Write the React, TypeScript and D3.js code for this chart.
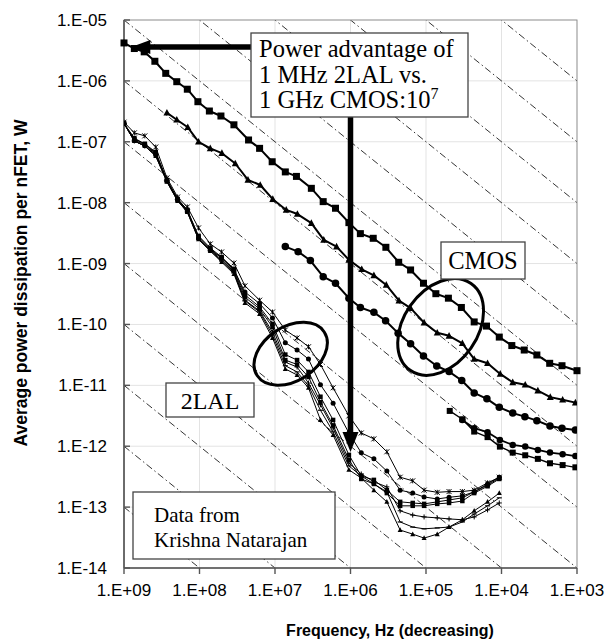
import React from 'react';
import * as d3 from 'd3';

// ---------- data ----------
const X_TICKS = [1e9, 1e8, 1e7, 1e6, 1e5, 1e4, 1e3];
const Y_TICKS = [1e-5, 1e-6, 1e-7, 1e-8, 1e-9, 1e-10, 1e-11, 1e-12, 1e-13, 1e-14];
// constant energy-per-cycle guide lines (J), P = E * f
const ENERGY_LINES = [1e-23, 1e-22, 1e-21, 1e-20, 1e-19, 1e-18, 1e-17, 1e-16, 1e-15, 1e-14, 1e-13, 1e-12, 1e-11, 1e-10, 1e-9, 1e-8];

// CMOS series
const CMOS_SQ_F = [1e9, 7.3e8, 5.4e8, 3.9e8, 2.8e8, 2.0e8, 1.45e8, 1.05e8, 7.4e7, 5.2e7, 3.5e7, 2.24e7, 1.6e7, 1.09e7, 7.3e6, 5.2e6, 3.3e6, 2.3e6, 1.58e6, 1.05e6, 7.4e5, 5.0e5, 3.4e5, 2.3e5, 1.6e5, 1.08e5, 7.4e4, 5.05e4, 3.4e4, 2.3e4, 1.58e4, 1.07e4, 7.3e3, 5.0e3, 3.4e3, 2.3e3, 1.58e3, 1.0e3];
const CMOS_SQ_P = [4.2e-6, 3.4e-6, 3.0e-6, 2.1e-6, 1.33e-6, 9.7e-7, 7.3e-7, 4.55e-7, 3.2e-7, 2.65e-7, 1.9e-7, 1.07e-7, 7.8e-8, 4.7e-8, 3.2e-8, 2.7e-8, 1.72e-8, 1.04e-8, 8.1e-9, 4.7e-9, 3.1e-9, 2.6e-9, 1.85e-9, 1.05e-9, 7.85e-10, 4.75e-10, 3.2e-10, 2.7e-10, 1.9e-10, 1.1e-10, 9.4e-11, 6.2e-11, 4.5e-11, 3.8e-11, 3.15e-11, 2.3e-11, 2.1e-11, 1.74e-11];

const CMOS_TRI_F = [2.7e8, 2.0e8, 1.43e8, 1.03e8, 7.2e7, 5.05e7, 3.36e7, 2.28e7, 1.57e7, 1.07e7, 7.1e6, 5.05e6, 3.3e6, 2.26e6, 1.53e6, 1.05e6, 7.1e5, 4.9e5, 3.36e5, 2.28e5, 1.6e5, 1.06e5, 7.1e4, 4.95e4, 3.3e4, 2.3e4, 1.53e4, 1.04e4, 7.1e3, 4.85e3, 3.3e3, 2.26e3, 1.55e3, 1.05e3];
const CMOS_TRI_P = [3.0e-7, 2.3e-7, 1.73e-7, 1.0e-7, 7.8e-8, 6.5e-8, 4.4e-8, 2.36e-8, 1.95e-8, 1.14e-8, 7.6e-9, 6.5e-9, 4.6e-9, 2.45e-9, 1.9e-9, 1.15e-9, 8.05e-10, 6.4e-10, 4.45e-10, 2.46e-10, 1.85e-10, 1.07e-10, 7.3e-11, 6.5e-11, 4.9e-11, 2.7e-11, 2.3e-11, 1.54e-11, 1.12e-11, 1.02e-11, 8.2e-12, 6.4e-12, 5.8e-12, 5.2e-12];

const CMOS_CIR_F = [7.3e6, 4.94e6, 3.4e6, 2.3e6, 1.58e6, 1.05e6, 7.4e5, 4.9e5, 3.43e5, 2.34e5, 1.6e5, 1.08e5, 7.2e4, 4.95e4, 3.36e4, 2.3e4, 1.56e4, 1.07e4, 7.1e3, 4.9e3, 3.4e3, 2.28e3, 1.58e3, 1.05e3];
const CMOS_CIR_P = [1.9e-9, 1.57e-9, 1.12e-9, 6.1e-10, 4.75e-10, 2.7e-10, 1.9e-10, 1.58e-10, 1.15e-10, 7.2e-11, 4.8e-11, 3.04e-11, 2.08e-11, 1.68e-11, 1.2e-11, 7.5e-12, 6.0e-12, 4.35e-12, 3.5e-12, 3.06e-12, 2.63e-12, 2.15e-12, 1.98e-12, 1.85e-12];

const CMOS_LOW_SQ_F = [4.85e4, 3.3e4, 2.3e4, 1.53e4, 1.05e4, 7.1e3, 4.85e3, 3.3e3, 2.28e3, 1.55e3, 1.05e3];
const CMOS_LOW_SQ_P = [3.8e-12, 2.77e-12, 1.74e-12, 1.41e-12, 9.85e-13, 7.85e-13, 7.1e-13, 6.2e-13, 5.25e-13, 4.9e-13, 4.5e-13];
const CMOS_LOW_CIR_F = [3.3e4, 2.3e4, 1.53e4, 1.05e4, 7.1e3, 4.85e3, 3.3e3, 2.28e3, 1.55e3, 1.05e3];
const CMOS_LOW_CIR_P = [2.7e-12, 1.98e-12, 1.7e-12, 1.27e-12, 1.05e-12, 9.85e-13, 8.7e-13, 7.85e-13, 7.4e-13, 6.9e-13];

// 2LAL series (shared frequency grid)
const LAL_F = [1e9, 7.3e8, 5.3e8, 3.8e8, 2.7e8, 1.95e8, 1.45e8, 1.03e8, 7.2e7, 5.1e7, 3.5e7, 2.5e7, 1.6e7, 1.08e7, 7.3e6, 5.1e6, 3.6e6, 2.5e6, 1.7e6, 1.05e6, 7.2e5, 4.9e5, 3.3e5, 2.2e5, 1.5e5, 1.06e5, 7.1e4, 4.95e4, 3.3e4, 2.3e4, 1.53e4, 1.07e4];
const LAL_A = [2.1e-7, 1.4e-7, 1.25e-7, 8.2e-8, 2.55e-8, 1.24e-8, 8.5e-9, 3.85e-9, 2.1e-9, 1.55e-9, 1.02e-9, 4.3e-10, 2.5e-10, 1.6e-10, 8.1e-11, 6.0e-11, 4.3e-11, 2.2e-11, 9.1e-12, 3.15e-12, 1.65e-12, 1.32e-12, 8.1e-13, 3.1e-13, 2.7e-13, 1.9e-13, 1.75e-13, 1.8e-13, 1.8e-13, 1.9e-13, 2.5e-13, 3.1e-13];
const LAL_B = [2.0e-7, 1.07e-7, 8.9e-8, 6.3e-8, 2.36e-8, 1.15e-8, 7.6e-9, 2.6e-9, 1.67e-9, 1.24e-9, 7.9e-10, 3.4e-10, 2.2e-10, 1.28e-10, 5.0e-11, 3.8e-11, 2.7e-11, 1.02e-11, 5.1e-12, 1.65e-12, 7.8e-13, 6.2e-13, 3.9e-13, 1.9e-13, 1.7e-13, 1.47e-13, 1.36e-13, 1.45e-13, 1.53e-13, 1.78e-13, 2.4e-13, 3.1e-13];
const LAL_C = [2.0e-7, 1.15e-7, 9.2e-8, 6.8e-8, 2.36e-8, 1.15e-8, 7.6e-9, 2.85e-9, 1.8e-9, 1.28e-9, 8.2e-10, 3.05e-10, 1.94e-10, 1.02e-10, 3.2e-11, 2.6e-11, 1.66e-11, 6.5e-12, 2.7e-12, 7.2e-13, 3.25e-13, 2.8e-13, 1.9e-13, 1.22e-13, 1.17e-13, 1.13e-13, 1.22e-13, 1.31e-13, 1.42e-13, 1.78e-13, 2.3e-13, 3.0e-13];
const LAL_D = [2.0e-7, 1.11e-7, 9.2e-8, 6.5e-8, 2.27e-8, 1.11e-8, 7.3e-9, 2.75e-9, 1.74e-9, 1.24e-9, 7.6e-10, 2.8e-10, 1.8e-10, 9.1e-11, 2.6e-11, 2.2e-11, 1.37e-11, 5.3e-12, 2.2e-12, 6.0e-13, 2.9e-13, 2.4e-13, 1.7e-13, 1.05e-13, 1.05e-13, 1.05e-13, 1.13e-13, 1.17e-13, 1.26e-13, 1.7e-13, 2.2e-13, 2.9e-13];
const LAL_E = [2.0e-7, 1.03e-7, 8.5e-8, 6.1e-8, 2.27e-8, 1.11e-8, 7.3e-9, 2.6e-9, 1.67e-9, 1.15e-9, 7.3e-10, 2.5e-10, 1.67e-10, 7.5e-11, 2.4e-11, 2.0e-11, 1.09e-11, 4.8e-12, 2.0e-12, 5.3e-13, 3.5e-13, 2.6e-13, 2.15e-13, 8.7e-14, 7.4e-14, 6.9e-14, 6.65e-14, 6.4e-14, 6.2e-14, 6.9e-14, 9.0e-14, 1.17e-13];
const LAL_F2 = [2.0e-7, 1.03e-7, 8.5e-8, 5.85e-8, 2.2e-8, 1.07e-8, 7.0e-9, 2.5e-9, 1.61e-9, 1.1e-9, 7.0e-10, 2.43e-10, 1.6e-10, 6.7e-11, 2.1e-11, 1.66e-11, 9.8e-12, 3.9e-12, 1.72e-12, 4.75e-13, 3.25e-13, 2.4e-13, 1.78e-13, 5.7e-14, 4.7e-14, 4.4e-14, 4.55e-14, 4.7e-14, 5.7e-14, 7.7e-14, 1.05e-13, 1.42e-13];
const LAL_G = [2.0e-7, 1.03e-7, 8.5e-8, 5.85e-8, 2.2e-8, 1.07e-8, 7.0e-9, 2.5e-9, 1.61e-9, 1.06e-9, 6.75e-10, 2.26e-10, 1.49e-10, 6.0e-11, 1.86e-11, 1.48e-11, 9.1e-12, 2.7e-12, 1.53e-12, 4.1e-13, 3.0e-13, 1.9e-13, 1.22e-13, 4.2e-14, 3.6e-14, 3.1e-14, 3.6e-14, 4.7e-14, 6.2e-14, 8.7e-14, 1.22e-13, 1.7e-13];

// annotation anchors (data space)
const ARROW_H = { f: 8.0e8, p: 3.6e-6 };
const ARROW_V = { f: 1e6, p: 8.0e-13 };
const ELLIPSE_LAL = { f: 6.2e6, p: 3.3e-11 };
const ELLIPSE_CMOS = { f: 6.4e4, p: 9.1e-11 };

// ---------- layout ----------
const W = 608, H = 640;
const PL = 124, PR = 577, PT = 20, PB = 568;
const SANS = "'Liberation Sans', Arial, Helvetica, sans-serif";
const SERIF = "'Liberation Serif', 'Times New Roman', Times, serif";

const x = d3.scaleLog().domain([1e9, 1e3]).range([PL, PR]);
const y = d3.scaleLog().domain([1e-14, 1e-5]).range([PB, PT]);

const fmt = (v: number) => {
  const e = Math.round(Math.log10(v));
  return `1.E${e < 0 ? '-' : '+'}${String(Math.abs(e)).padStart(2, '0')}`;
};

type Mk = 'square' | 'circle' | 'triangle' | 'x' | 'plus' | 'dash';

function Marker({ t, cx, cy, s }: { t: Mk; cx: number; cy: number; s: number }) {
  const h = s / 2;
  if (t === 'square') return <rect x={cx - h} y={cy - h} width={s} height={s} fill="#000" />;
  if (t === 'circle') return <circle cx={cx} cy={cy} r={h} fill="#000" />;
  if (t === 'triangle')
    return <path d={`M${cx},${cy - h * 1.1}L${cx + h},${cy + h * 0.8}L${cx - h},${cy + h * 0.8}Z`} fill="#000" />;
  if (t === 'x')
    return (
      <path d={`M${cx - h},${cy - h}L${cx + h},${cy + h}M${cx - h},${cy + h}L${cx + h},${cy - h}M${cx},${cy - h}L${cx},${cy + h}`} stroke="#000" strokeWidth={1} fill="none" />
    );
  if (t === 'plus')
    return <path d={`M${cx - h},${cy}L${cx + h},${cy}M${cx},${cy - h}L${cx},${cy + h}`} stroke="#000" strokeWidth={1} fill="none" />;
  return <path d={`M${cx - h},${cy}L${cx + h},${cy}`} stroke="#000" strokeWidth={1.2} fill="none" />;
}

const line = d3
  .line<[number, number]>()
  .x((d) => x(d[0]))
  .y((d) => y(d[1]));

function Series({ fs, ps, mk, lw, ms }: { fs: number[]; ps: number[]; mk: Mk; lw: number; ms: number }) {
  const pts = fs.map((f, i) => [f, ps[i]] as [number, number]);
  return (
    <g>
      <path d={line(pts) || ''} fill="none" stroke="#000" strokeWidth={lw} strokeLinejoin="round" />
      {pts.map((d, i) => (
        <Marker key={i} t={mk} cx={x(d[0])} cy={y(d[1])} s={ms} />
      ))}
    </g>
  );
}

export default function App() {
  const lal: [number[], Mk, number][] = [
    [LAL_G, 'triangle', 5],
    [LAL_F2, 'dash', 5],
    [LAL_E, 'plus', 5],
    [LAL_D, 'square', 4.5],
    [LAL_C, 'square', 4.5],
    [LAL_B, 'circle', 5],
    [LAL_A, 'x', 5],
  ];

  const axh = { x1: x(ARROW_H.f), yy: y(ARROW_H.p) };
  const avx = x(ARROW_V.f);
  const avTip = y(ARROW_V.p);

  return (
    <svg width={W} height={H} style={{ position: 'absolute', left: 0, top: 0, background: '#fff' }}>
      <defs>
        <clipPath id="plot">
          <rect x={PL} y={PT} width={PR - PL} height={PB - PT} />
        </clipPath>
      </defs>
      <rect x={0} y={0} width={W} height={H} fill="#fff" />

      {/* grid */}
      {X_TICKS.map((t) => (
        <line key={'gx' + t} x1={x(t)} x2={x(t)} y1={PT} y2={PB} stroke="#e3e3e3" strokeWidth={1} />
      ))}
      {Y_TICKS.map((t) => (
        <line key={'gy' + t} x1={PL} x2={PR} y1={y(t)} y2={y(t)} stroke="#e3e3e3" strokeWidth={1} />
      ))}

      {/* constant energy guide lines */}
      <g clipPath="url(#plot)">
        {ENERGY_LINES.map((e) => (
          <line
            key={'e' + e}
            x1={x(1e9)}
            y1={y(e * 1e9)}
            x2={x(1e3)}
            y2={y(e * 1e3)}
            stroke="#000"
            strokeWidth={0.8}
            strokeDasharray="7 3 1.5 3"
          />
        ))}
      </g>

      {/* frame & axes */}
      <rect x={PL} y={PT} width={PR - PL} height={PB - PT} fill="none" stroke="#999" strokeWidth={1} />
      <line x1={PL} x2={PL} y1={PT} y2={PB} stroke="#555" strokeWidth={1.6} />
      <line x1={PL} x2={PR} y1={PB} y2={PB} stroke="#555" strokeWidth={1.6} />
      {X_TICKS.map((t) => (
        <line key={'tx' + t} x1={x(t)} x2={x(t)} y1={PB} y2={PB + 6} stroke="#555" strokeWidth={1.4} />
      ))}
      {Y_TICKS.map((t) => (
        <line key={'ty' + t} x1={PL} x2={PL + 6} y1={y(t)} y2={y(t)} stroke="#555" strokeWidth={1.4} />
      ))}

      {/* tick labels */}
      {X_TICKS.map((t) => (
        <text key={'lx' + t} x={x(t)} y={596} textAnchor="middle" fontFamily={SANS} fontSize={17} fill="#000">
          {fmt(t)}
        </text>
      ))}
      {Y_TICKS.map((t) => (
        <text key={'ly' + t} x={107} y={y(t) + 6} textAnchor="end" fontFamily={SANS} fontSize={17} fill="#000">
          {fmt(t)}
        </text>
      ))}

      {/* axis titles */}
      <text x={390} y={636} textAnchor="middle" fontFamily={SANS} fontWeight="bold" fontSize={16} fill="#000">
        Frequency, Hz (decreasing)
      </text>
      <text
        transform={`translate(27,${283}) rotate(-90)`}
        textAnchor="middle"
        fontFamily={SANS}
        fontWeight="bold"
        fontSize={17.5}
        fill="#000"
      >
        Average power dissipation per nFET, W
      </text>

      {/* data */}
      <g clipPath="url(#plot)">
        {lal.map(([ps, mk, ms], i) => (
          <Series key={'l' + i} fs={LAL_F} ps={ps} mk={mk} lw={1} ms={ms} />
        ))}
        <Series fs={CMOS_LOW_SQ_F} ps={CMOS_LOW_SQ_P} mk="square" lw={1.4} ms={6} />
        <Series fs={CMOS_LOW_CIR_F} ps={CMOS_LOW_CIR_P} mk="circle" lw={1.8} ms={6.5} />
        <Series fs={CMOS_CIR_F} ps={CMOS_CIR_P} mk="circle" lw={2} ms={7.5} />
        <Series fs={CMOS_TRI_F} ps={CMOS_TRI_P} mk="triangle" lw={2} ms={7} />
      </g>
      <Series fs={CMOS_SQ_F} ps={CMOS_SQ_P} mk="square" lw={2} ms={7} />

      {/* ellipses */}
      <ellipse
        cx={0}
        cy={0}
        rx={40}
        ry={27}
        transform={`translate(${x(ELLIPSE_LAL.f)},${y(ELLIPSE_LAL.p)}) rotate(-33)`}
        fill="none"
        stroke="#000"
        strokeWidth={3}
      />
      <ellipse
        cx={0}
        cy={0}
        rx={53}
        ry={37}
        transform={`translate(${x(ELLIPSE_CMOS.f)},${y(ELLIPSE_CMOS.p)}) rotate(-55)`}
        fill="none"
        stroke="#000"
        strokeWidth={3}
      />

      {/* arrows */}
      <line x1={251} x2={axh.x1 + 17} y1={axh.yy} y2={axh.yy} stroke="#000" strokeWidth={5.5} />
      <path d={`M${axh.x1},${axh.yy}L${axh.x1 + 19},${axh.yy - 7}L${axh.x1 + 19},${axh.yy + 7}Z`} fill="#000" />
      <line x1={avx} x2={avx} y1={117} y2={avTip - 17} stroke="#000" strokeWidth={5.5} />
      <path d={`M${avx},${avTip}L${avx - 8},${avTip - 20}L${avx + 8},${avTip - 20}Z`} fill="#000" />

      {/* annotation boxes */}
      <rect x={251} y={33} width={217} height={84} fill="#fff" stroke="#444" strokeWidth={1.3} />
      <g fontFamily={SERIF} fontSize={24.5} fill="#000">
        <text x={259} y={57}>Power advantage of</text>
        <text x={259} y={83}>1 MHz 2LAL vs.</text>
        <text x={259} y={108}>
          1 GHz CMOS:10<tspan dy={-9} fontSize={16}>7</tspan>
        </text>
      </g>

      <rect x={441} y={242} width={84} height={37} fill="#fff" stroke="#444" strokeWidth={1.3} />
      <text x={483} y={269} textAnchor="middle" fontFamily={SERIF} fontSize={24.5} fill="#000">
        CMOS
      </text>

      <rect x={166} y={383} width={88} height={34} fill="#fff" stroke="#444" strokeWidth={1.3} />
      <text x={210} y={409} textAnchor="middle" fontFamily={SERIF} fontSize={24} fill="#000">
        2LAL
      </text>

      <rect x={133} y={492} width={202} height={67} fill="#fff" stroke="#444" strokeWidth={1.3} />
      <g fontFamily={SERIF} fontSize={21} fill="#000">
        <text x={154} y={522}>Data from</text>
        <text x={154} y={547}>Krishna Natarajan</text>
      </g>
    </svg>
  );
}
